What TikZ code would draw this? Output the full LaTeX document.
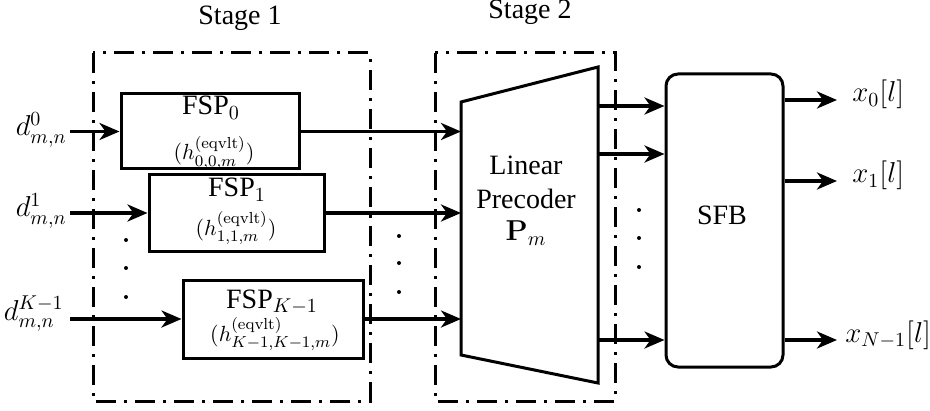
\documentclass[tikz,border=0pt]{standalone}
\usepackage{amsmath}
\usepackage[no-math]{fontspec}
\setmainfont{Liberation Serif}
\DeclareMathSizes{11}{11}{8.5}{6.5}
\usetikzlibrary{arrows.meta}
\begin{document}
\begin{tikzpicture}[x=0.5pt,y=-0.5pt,
  txt/.style={font=\fontsize{14}{16}\selectfont,inner sep=0pt},
  hlab/.style={font=\fontsize{11}{13}\selectfont,inner sep=0pt},
  fspbox/.style={draw,line width=1.5pt,inner sep=0pt},
  arr/.style={line width=1.7pt,-{Stealth[length=10pt,width=8.5pt,inset=3pt]}},
  stagebox/.style={draw,line width=1.5pt,dash pattern=on 10pt off 4pt on 1.5pt off 4pt},
  dotmark/.style={fill,circle,inner sep=0pt,minimum size=2pt}
]
\useasboundingbox (0,0) rectangle (930,411);

% stage boxes
\draw[stagebox] (93,53) rectangle (370,401);
\draw[stagebox] (435,53) rectangle (615,401);
\node[txt,anchor=base] (st1) at (240,25) {Stage 1};
\node[txt,anchor=base] (st2) at (530,19) {Stage 2};

% FSP boxes
\node[fspbox,minimum width=89pt,minimum height=37.5pt] (fsp0) at (210,131.5) {};
\node[fspbox,minimum width=87.5pt,minimum height=38pt] (fsp1) at (236.5,213) {};
\node[fspbox,minimum width=90pt,minimum height=39pt] (fspk) at (273,319) {};
\node[txt,anchor=base] (f0t) at (211,115) {FSP$_0$};
\node[hlab,anchor=base] (f0h) at (214,160) {$(h^{(\mathrm{eqvlt})}_{0,0,m})$};
\node[txt,anchor=base] (f1t) at (237,197) {FSP$_1$};
\node[hlab,anchor=base] (f1h) at (236,235) {$(h^{(\mathrm{eqvlt})}_{1,1,m})$};
\node[txt,anchor=base] (fkt) at (272,308) {FSP$_{K-1}$};
\node[hlab,anchor=base] (fkh) at (275,341) {$(h^{(\mathrm{eqvlt})}_{K-1,K-1,m})$};

% inputs
\node[txt,anchor=base east] (d0) at (67,136) {$d^{0}_{m,n}$};
\node[txt,anchor=base east] (d1) at (67,217) {$d^{1}_{m,n}$};
\node[txt,anchor=base east] (dk) at (64,320) {$d^{K-1}_{m,n}$};
\coordinate (i0) at (70,131.5);
\coordinate (i1) at (70,213);
\coordinate (ik) at (70,319);
\draw[arr] (i0) -- (fsp0.west);
\draw[arr] (i1) -- (fsp1.west);
\draw[arr] (ik) -- (fspk.west);

% dots
\node[dotmark] (a1) at (126,240) {};
\node[dotmark] (a2) at (126,268) {};
\node[dotmark] (a3) at (126,297) {};
\node[dotmark] (b1) at (399,236) {};
\node[dotmark] (b2) at (399,263) {};
\node[dotmark] (b3) at (399,292) {};
\node[dotmark] (c1) at (639,210) {};
\node[dotmark] (c2) at (639,238) {};
\node[dotmark] (c3) at (639,267) {};

% precoder trapezoid
\coordinate (tl) at (461,102);
\coordinate (tr) at (598,67);
\coordinate (br) at (598,383);
\coordinate (bl) at (461,355);
\draw[line width=1.5pt,line join=miter] (tl) -- (tr) -- (br) -- (bl) -- cycle;
\node[txt,anchor=base] (lp1) at (526,175) {Linear};
\node[txt,anchor=base] (lp2) at (526,208) {Precoder};
\node[txt,anchor=base] (lp3) at (526,241) {$\mathbf{P}_m$};

\draw[arr] (fsp0.east) -- (fsp0.east -| tl);
\draw[arr] (fsp1.east) -- (fsp1.east -| tl);
\draw[arr] (fspk.east) -- (fspk.east -| tl);

% SFB
\node[draw,line width=1.5pt,rounded corners=6pt,minimum width=58.5pt,minimum height=146.5pt,inner sep=0pt] (sfb) at (724.5,220.5) {};
\node[txt,anchor=base] (sfbt) at (722,225) {SFB};

\coordinate (p0) at (598,106);
\coordinate (p1) at (598,154);
\coordinate (p2) at (598,340);
\draw[arr] (p0) -- (p0 -| sfb.west);
\draw[arr] (p1) -- (p1 -| sfb.west);
\draw[arr] (p2) -- (p2 -| sfb.west);

% outputs
\coordinate (o0) at (837,100);
\coordinate (o1) at (837,181);
\coordinate (o2) at (837,340);
\draw[arr] (sfb.east |- o0) -- (o0);
\draw[arr] (sfb.east |- o1) -- (o1);
\draw[arr] (sfb.east |- o2) -- (o2);
\node[txt,anchor=base west] (x0) at (852,102) {$x_0[l]$};
\node[txt,anchor=base west] (x1) at (852,183) {$x_1[l]$};
\node[txt,anchor=base west] (xn) at (845,342) {$x_{N-1}[l]$};
\end{tikzpicture}
\end{document}
